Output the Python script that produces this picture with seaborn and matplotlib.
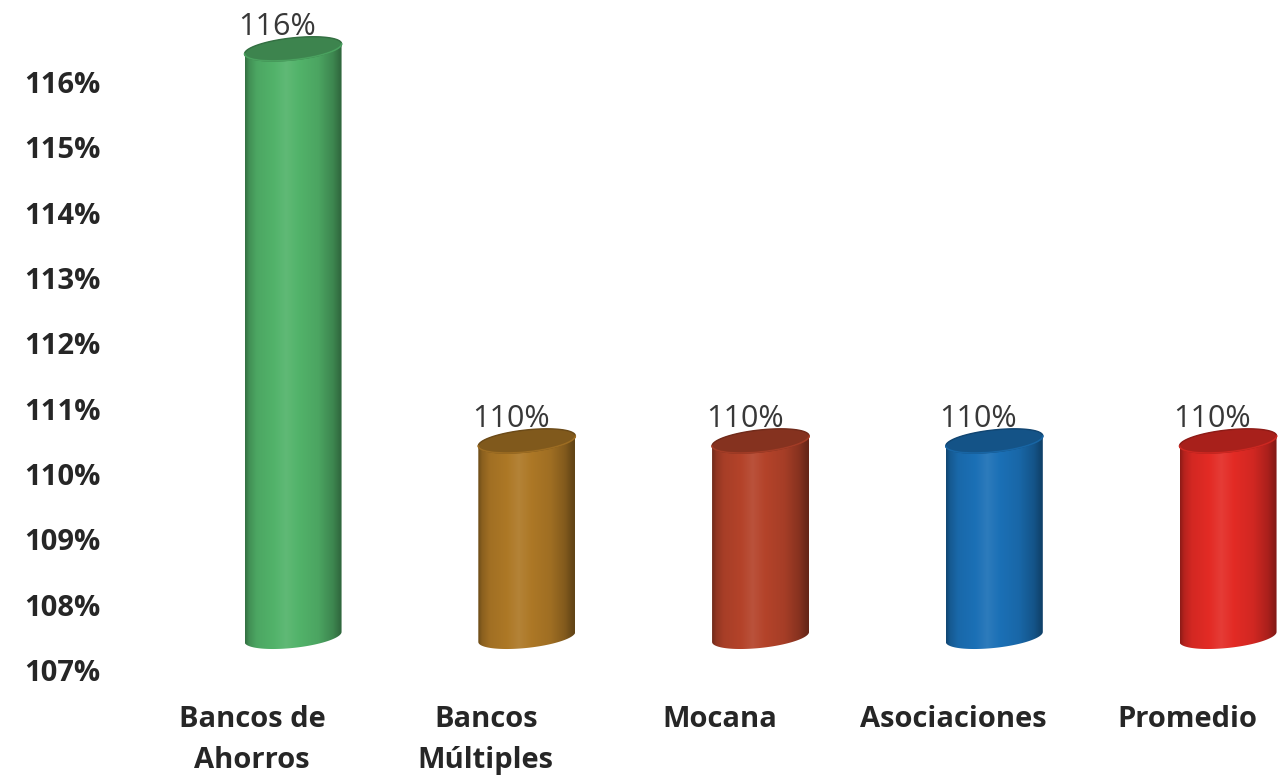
import numpy as np
import matplotlib
matplotlib.use("Agg")
import matplotlib.pyplot as plt
import seaborn as sns
from matplotlib.patches import Polygon
from matplotlib.colors import to_rgb

# Chart data
categories = ["Bancos de\nAhorros", "Bancos\nMúltiples", "Mocana", "Asociaciones", "Promedio"]
values = [116, 110, 110, 110, 110]
bar_colors = ["#52b36a", "#ad7826", "#b4432a", "#1b70b6", "#e32b25"]
y_ticks = [107, 108, 109, 110, 111, 112, 113, 114, 115, 116]
y_tick_labels = [f"{t}%" for t in y_ticks]
base_value = 107

sns.set_theme(style="white")
plt.rcParams["font.family"] = ["Open Sans", "DejaVu Sans"]

W, H = 1285, 778
fig = plt.figure(figsize=(W / 100, H / 100), dpi=100)
ax = fig.add_axes([120 / W, (H - 683) / H, (W - 120) / W, 660 / H])

sns.barplot(x=categories, y=values, hue=categories, palette=bar_colors,
            legend=False, width=0.415, ax=ax)

ax.set_xlim(-0.565, 4.419)
ax.set_ylim(106.8, 116.9)

# pixel scale of the data axes
p0 = ax.transData.transform((0, 107))
p1 = ax.transData.transform((1, 108))
sx, sy = p1[0] - p0[0], p1[1] - p0[1]

# cylinder geometry in pixels
DEPTH_X, DEPTH_Y = 41, 33
RX, RY, SHEAR = 48.5, 11.0, 5.0


def shade(rgb, f):
    rgb = np.asarray(rgb)
    if f <= 1:
        return rgb * f
    return rgb + (1 - rgb) * (f - 1)


def ellipse(cx, cy, t):
    dx = RX * np.cos(t)
    dy = RY * np.sin(t) + SHEAR * np.cos(t)
    return np.column_stack([cx + dx / sx, cy + dy / sy])


prof_u = [0.0, 0.04, 0.12, 0.3, 0.42, 0.55, 0.75, 0.9, 0.97, 1.0]
prof_f = [0.62, 0.8, 0.93, 1.0, 1.08, 1.0, 0.92, 0.75, 0.6, 0.56]
u = np.linspace(0, 1, 200)
fac = np.interp(u, prof_u, prof_f)

patches = list(ax.patches)
for p in patches:
    p.set_visible(False)

for p in patches:
    xc = p.get_x() + p.get_width() / 2
    idx = int(round(xc))
    v = p.get_height()
    rgb = to_rgb(bar_colors[idx])
    cx = xc + DEPTH_X / sx
    y_top = v + DEPTH_Y / sy
    y_bot = base_value + DEPTH_Y / sy

    bottom_arc = ellipse(cx, y_bot, np.linspace(np.pi, 2 * np.pi, 80))
    top_arc = ellipse(cx, y_top, np.linspace(0, np.pi, 80))
    body = Polygon(np.vstack([bottom_arc, top_arc]), closed=True,
                   facecolor="none", edgecolor="none", transform=ax.transData)
    ax.add_patch(body)

    grad = np.array([shade(rgb, f) for f in fac])[None, :, :]
    x0, x1 = cx - RX / sx, cx + RX / sx
    yb = y_bot - (RY + SHEAR + 2) / sy
    yt = y_top + (RY + SHEAR + 2) / sy
    im = ax.imshow(grad, extent=(x0, x1, yb, yt), aspect="auto",
                   interpolation="bilinear", zorder=2)
    im.set_clip_path(body)

    cap = Polygon(ellipse(cx, y_top, np.linspace(0, 2 * np.pi, 120)), closed=True,
                  facecolor=shade(rgb, 0.74), edgecolor=shade(rgb, 0.62),
                  linewidth=1.0, zorder=3)
    ax.add_patch(cap)
    rim = ellipse(cx, y_top, np.linspace(np.pi, 2 * np.pi, 60))
    ax.plot(rim[:, 0], rim[:, 1], color=shade(rgb, 0.9), lw=1.2, zorder=3.5)

    ax.text(xc + 25 / sx, v + 55 / sy, f"{v:.0f}%", ha="center", va="center",
            fontsize=22, color="#383838", zorder=5, clip_on=False)

ax.set_xticks(range(len(categories)))
ax.set_xticklabels(categories, fontsize=21, fontweight="bold", color="#262626",
                   linespacing=1.55)
ax.set_yticks(y_ticks)
ax.set_yticklabels(y_tick_labels, fontsize=21, fontweight="bold", color="#262626")
ax.tick_params(axis="y", length=0, pad=14)
ax.tick_params(axis="x", length=0, pad=16)
for lab in ax.get_xticklabels():
    lab.set_verticalalignment("top")
ax.set_xlabel("")
ax.set_ylabel("")
for s in ax.spines.values():
    s.set_visible(False)
ax.grid(False)
ax.set_xlim(-0.565, 4.419)
ax.set_ylim(106.8, 116.9)

fig.savefig("out.png", dpi=100, facecolor="white")
